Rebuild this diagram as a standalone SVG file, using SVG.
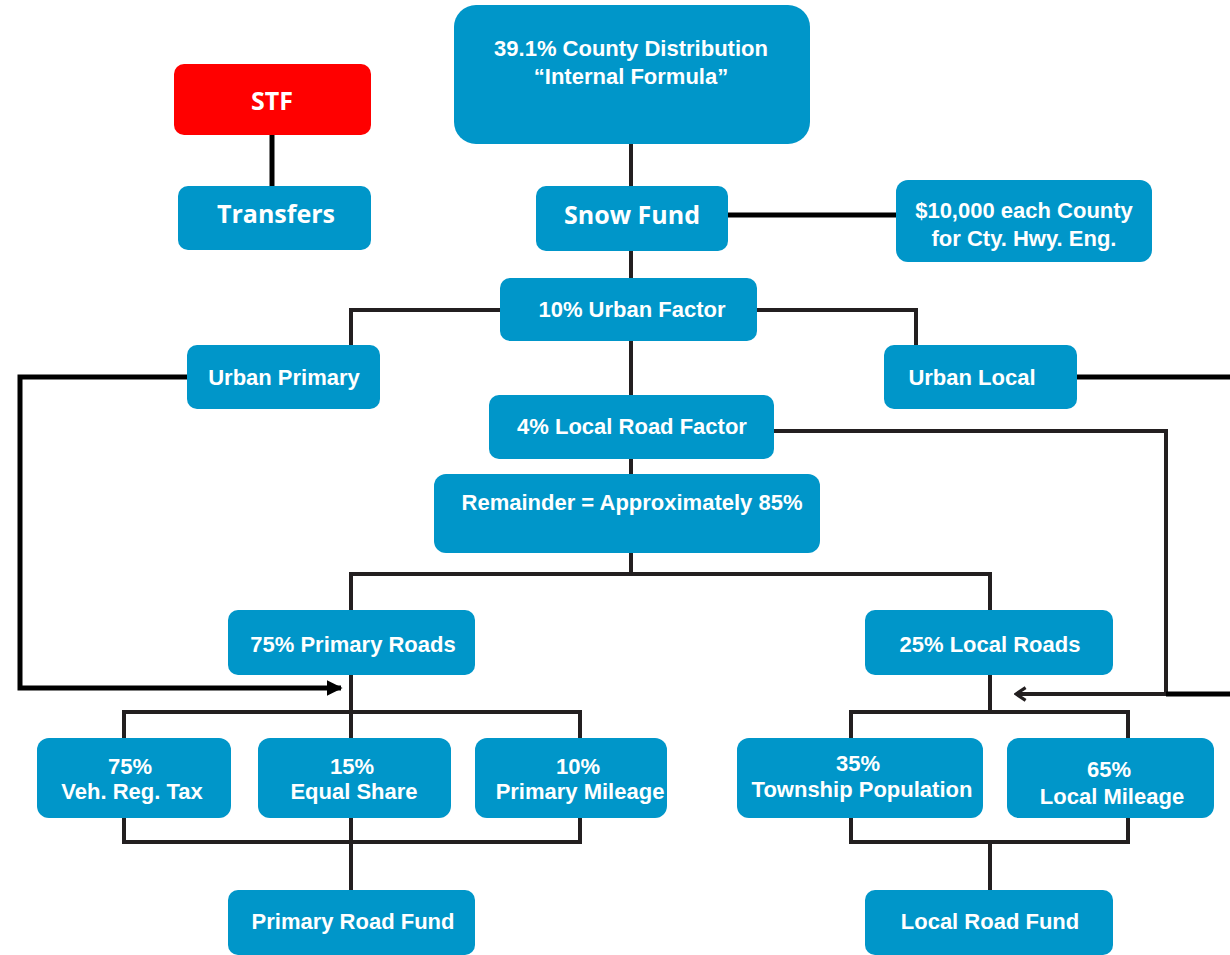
<svg xmlns="http://www.w3.org/2000/svg" width="1230" height="955" viewBox="0 0 1230 955">
<style>
.n{fill:#0096C9;}
.r{fill:#FF0000;}
.t{font-family:"Liberation Sans",Arial,sans-serif;font-weight:bold;font-size:22px;fill:#fff;text-anchor:middle;}
.o{font-family:"Open Sans","Liberation Sans",sans-serif;font-weight:bold;font-size:25px;fill:#fff;text-anchor:middle;}
.c{fill:none;stroke:#231F20;stroke-width:4;}
.k{fill:none;stroke:#000;stroke-width:5;}
</style>
<defs>
<marker id="ah" viewBox="0 0 10 10" refX="9" refY="5" markerWidth="3.2" markerHeight="3.2" orient="auto" markerUnits="strokeWidth">
<path d="M0,0 L10,5 L0,10 z" fill="#000"/>
</marker>
<marker id="ch" viewBox="0 0 10 10" refX="9" refY="5" markerWidth="4" markerHeight="4" orient="auto" markerUnits="strokeWidth">
<path d="M3,1 L9,5 L3,9" fill="none" stroke="#231F20" stroke-width="2"/>
</marker>
</defs>
<rect width="1230" height="955" fill="#fff"/>
<g id="connectors">
<line class="k" x1="272" y1="135" x2="272" y2="186" stroke-width="6"/>
<line class="c" x1="631" y1="144" x2="631" y2="186"/>
<line class="k" x1="728" y1="215" x2="896" y2="215"/>
<line class="c" x1="631" y1="251" x2="631" y2="278"/>
<polyline class="c" points="500,310 351,310 351,345"/>
<polyline class="c" points="757,310 916,310 916,345"/>
<line class="c" x1="631" y1="341" x2="631" y2="395"/>
<polyline class="k" points="187,377 20,377 20,688 341,688" marker-end="url(#ah)"/>
<line class="k" x1="1077" y1="377" x2="1230" y2="377"/>
<polyline class="c" points="774,431 1166,431 1166,694 1016,694" marker-end="url(#ch)"/>
<line class="k" x1="1166" y1="694" x2="1230" y2="694"/>
<line class="c" x1="631" y1="459" x2="631" y2="474"/>
<line class="c" x1="631" y1="553" x2="631" y2="574"/>
<polyline class="c" points="351,610 351,574 990,574 990,610"/>
<line class="c" x1="351" y1="675" x2="351" y2="890"/>
<polyline class="c" points="124,738 124,712 580,712 580,738"/>
<polyline class="c" points="124,818 124,842 580,842 580,818"/>
<line class="c" x1="990" y1="675" x2="990" y2="712"/>
<line class="c" x1="990" y1="842" x2="990" y2="890"/>
<polyline class="c" points="851,738 851,712 1128,712 1128,738"/>
<polyline class="c" points="851,818 851,842 1128,842 1128,818"/>
</g>
<g id="stf"><rect class="r" x="174" y="64" width="197" height="71" rx="10"/><text class="o" x="272" y="110">STF</text></g>
<g id="transfers"><rect class="n" x="178" y="186" width="193" height="64" rx="10"/><text class="o" x="276" y="223">Transfers</text></g>
<g id="county"><rect class="n" x="454" y="5" width="356" height="139" rx="22"/><text class="t" x="631" y="56">39.1% County Distribution</text><text class="t" x="631" y="84">“Internal Formula”</text></g>
<g id="snow"><rect class="n" x="536" y="186" width="192" height="65" rx="10"/><text class="o" x="632" y="224">Snow Fund</text></g>
<g id="tenk"><rect class="n" x="896" y="180" width="256" height="82" rx="12"/><text class="t" x="1024" y="218">$10,000 each County</text><text class="t" x="1024" y="246">for Cty. Hwy. Eng.</text></g>
<g id="urbanfactor"><rect class="n" x="500" y="278" width="257" height="63" rx="10"/><text class="t" x="632" y="317">10% Urban Factor</text></g>
<g id="urbanprimary"><rect class="n" x="187" y="345" width="193" height="64" rx="10"/><text class="t" x="284" y="385">Urban Primary</text></g>
<g id="urbanlocal"><rect class="n" x="884" y="345" width="193" height="64" rx="10"/><text class="t" x="972" y="385">Urban Local</text></g>
<g id="localfactor"><rect class="n" x="489" y="395" width="285" height="64" rx="10"/><text class="t" x="632" y="434">4% Local Road Factor</text></g>
<g id="remainder"><rect class="n" x="434" y="474" width="386" height="79" rx="12"/><text class="t" x="632" y="510">Remainder = Approximately 85%</text></g>
<g id="primaryroads"><rect class="n" x="228" y="610" width="247" height="65" rx="10"/><text class="t" x="353" y="652">75% Primary Roads</text></g>
<g id="localroads"><rect class="n" x="865" y="610" width="248" height="65" rx="10"/><text class="t" x="990" y="652">25% Local Roads</text></g>
<g id="veh"><rect class="n" x="37" y="738" width="194" height="80" rx="12"/><text class="t" x="130" y="774">75%</text><text class="t" x="132" y="799">Veh. Reg. Tax</text></g>
<g id="equal"><rect class="n" x="258" y="738" width="193" height="80" rx="12"/><text class="t" x="352" y="774">15%</text><text class="t" x="354" y="799">Equal Share</text></g>
<g id="pmileage"><rect class="n" x="475" y="738" width="192" height="80" rx="12"/><text class="t" x="578" y="774">10%</text><text class="t" x="580" y="799">Primary Mileage</text></g>
<g id="township"><rect class="n" x="737" y="738" width="246" height="80" rx="12"/><text class="t" x="858" y="771">35%</text><text class="t" x="862" y="797">Township Population</text></g>
<g id="lmileage"><rect class="n" x="1007" y="738" width="207" height="80" rx="12"/><text class="t" x="1109" y="777">65%</text><text class="t" x="1112" y="804">Local Mileage</text></g>
<g id="primaryfund"><rect class="n" x="228" y="890" width="247" height="65" rx="10"/><text class="t" x="353" y="929">Primary Road Fund</text></g>
<g id="localfund"><rect class="n" x="865" y="890" width="248" height="65" rx="10"/><text class="t" x="990" y="929">Local Road Fund</text></g>
</svg>
